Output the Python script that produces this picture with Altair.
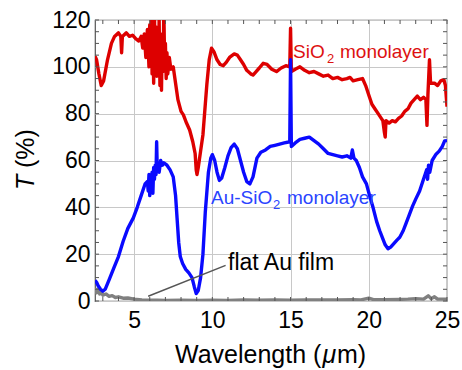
import altair as alt
import pandas as pd

# ---- measured spectra: wavelength (um) and transmittance (%) ----
sio2_wl = [2.5, 2.6, 2.75, 2.9, 3.05, 3.3, 3.55, 3.75, 4.0, 4.15, 4.2, 4.25, 4.5, 4.7, 4.9,
           5.1, 5.3, 5.45, 5.55, 5.65, 5.75, 5.85, 5.95, 6.0, 6.05, 6.1, 6.15, 6.2, 6.25, 6.3,
           6.35, 6.4, 6.45, 6.5, 6.55, 6.6, 6.65, 6.7, 6.75, 6.8, 6.85, 6.9, 6.95, 7.0, 7.05,
           7.1, 7.15, 7.25, 7.35, 7.5, 7.65, 7.8, 8.0, 8.15, 8.35, 8.55, 8.75, 8.9, 8.97, 9.02,
           9.1, 9.25, 9.4, 9.55, 9.65, 9.8, 9.95, 10.1, 10.3, 10.5, 10.7, 10.9, 11.1, 11.4,
           11.6, 11.8, 12.0, 12.2, 12.45, 12.6, 12.8, 13.0, 13.25, 13.5, 13.8, 14.1, 14.4, 14.7,
           14.95, 15.0, 15.05, 15.3, 15.6, 15.9, 16.2, 16.5, 16.8, 17.1, 17.4, 17.7, 18.0, 18.3,
           18.6, 18.8, 19.0, 19.3, 19.6, 19.8, 20.0, 20.2, 20.4, 20.6, 20.8, 20.9, 21.0, 21.05,
           21.1, 21.3, 21.5, 21.7, 21.9, 22.1, 22.3, 22.5, 22.7, 22.9, 23.1, 23.3, 23.5, 23.65,
           23.72, 23.78, 23.88, 23.95, 24.2, 24.4, 24.6, 24.8, 24.9, 25.0]
sio2_t = [104.5, 103, 97, 92, 94, 103, 110, 113, 114.5, 113, 106, 113, 114.5, 113, 113.5,
          112, 111, 113, 108, 114, 104, 116, 100, 118, 106, 121, 97, 112, 93, 122,
          103, 117, 96, 110, 99, 120, 92, 108, 90, 114, 98, 125, 101, 110, 95,
          106, 97, 104, 99, 100, 93, 86, 81, 79.5, 76, 73, 68, 63, 56, 54,
          57, 64, 71, 84, 92.5, 103, 108, 106.5, 103, 101, 100.5, 102, 104, 105.5,
          105, 103, 101, 98.5, 97, 96.5, 98, 99.5, 101.5, 101, 99, 98, 99.5, 100.5,
          100, 116.5, 98, 99, 100, 98.5, 97.5, 98, 97, 96, 96.5, 95, 95.5, 94.5,
          95, 95.5, 94, 94.5, 95, 92, 88, 84, 82, 80, 78, 77, 72, 70,
          77, 76, 77, 76.5, 78, 79, 81, 82, 84.5, 86, 87.5, 86, 87, 86,
          75, 88, 103, 93, 93, 92, 94, 94.5, 92, 83]

ausio2_wl = [2.5, 2.6, 2.7, 2.85, 3.0, 3.15, 3.4, 3.7, 4.0, 4.3, 4.6, 4.95, 5.2, 5.45, 5.7,
             5.85, 5.9, 5.95, 6.0, 6.05, 6.1, 6.15, 6.2, 6.25, 6.3, 6.35, 6.4, 6.44, 6.48,
             6.55, 6.6, 6.7, 6.8, 6.9, 7.1, 7.3, 7.5, 7.65, 7.75, 7.85, 7.95, 8.1, 8.3, 8.5,
             8.7, 8.85, 8.97, 9.1, 9.25, 9.4, 9.55, 9.75, 9.9, 10.0, 10.15, 10.3, 10.45,
             10.6, 10.8, 11.0, 11.2, 11.4, 11.6, 11.8, 12.0, 12.2, 12.4, 12.6, 12.85, 13.1,
             13.4, 13.7, 14.0, 14.3, 14.6, 14.95, 15.0, 15.05, 15.3, 15.6, 15.9, 16.2, 16.5,
             16.8, 17.1, 17.4, 17.7, 18.0, 18.3, 18.6, 18.85, 18.95, 19.05, 19.2, 19.4, 19.6,
             19.85, 20.05, 20.27, 20.5, 20.7, 20.9, 21.05, 21.23, 21.4, 21.6, 21.8, 21.98,
             22.2, 22.4, 22.6, 22.8, 23.0, 23.25, 23.45, 23.6, 23.7, 23.76, 23.82, 23.9,
             24.05, 24.3, 24.5, 24.7, 24.85, 25.0]
ausio2_t = [8.8, 8, 6.5, 5, 4.2, 5, 9, 14, 19, 25.5, 31, 35.5, 40, 45, 50,
            51, 47, 54, 45, 53, 49, 55, 46, 57, 52, 58, 54, 68, 56,
            59, 55, 60, 58, 59, 58, 56, 53, 45, 35, 25, 19, 16, 13.5, 12,
            10, 6, 3.2, 4.5, 10, 20, 38, 55, 61, 62.5, 60, 55, 51.5,
            52.5, 57, 62, 65.5, 67, 65, 60, 55, 51, 50, 53, 61, 63.5,
            64.5, 66, 66.5, 67, 67.5, 68, 103, 66, 67.5, 69, 69.5, 70, 68.5,
            67, 65, 63, 62.5, 62, 61.5, 62, 61, 64.5, 61, 60, 57, 53,
            50, 45, 40, 34, 30, 26.5, 24, 22.3, 23, 24.5, 26, 27.2,
            30, 33.5, 37, 40.5, 43.5, 47, 51, 54, 56, 52, 58, 55,
            60, 62.7, 64, 66, 68.4, 68.5]

au_wl = [2.5, 2.6, 2.7, 2.8, 2.9, 3.0, 3.2, 3.4, 3.6, 3.8, 4.0, 4.3, 4.6, 5.0, 5.5, 6.0,
         6.5, 7.0, 8.0, 9.0, 10.0, 11.0, 12.0, 13.0, 14.0, 15.0, 16.0, 17.0, 18.0, 19.0,
         19.5, 20.0, 20.3, 21.0, 22.0, 22.5, 23.0, 23.5, 23.8, 24.0, 24.2, 24.4, 25.0]
au_t = [5.5, 3.5, 5, 3, 4, 2.5, 3, 2, 2.3, 1.5, 1.8, 1.2, 1.3, 0.8, 0.5, 0.3,
        0.3, 0.2, 0.3, 0.2, 0.3, 0.2, 0.4, 0.3, 0.4, 0.3, 0.5, 0.4, 0.5, 0.6,
        0.5, 1.2, 0.6, 0.6, 0.7, 0.8, 1.0, 0.8, 2.2, 1.0, 1.8, 0.8, 0.8]

# axis tick positions
x_major = [5, 10, 15, 20, 25]
y_major = [0, 20, 40, 60, 80, 100, 120]
x_minor = list(range(3, 26))
y_minor = list(range(0, 121, 5))

# leader line for the flat film label
leader = pd.DataFrame({"x": [5.9], "y": [2.0], "x2": [10.85], "y2": [15.2]})

W, H = 352, 281
FONT = "Liberation Sans"

xs = alt.Scale(domain=[2.5, 25], nice=False, zero=False)
ys = alt.Scale(domain=[0, 120], nice=False, zero=False)

x_axis = alt.Axis(values=x_major, grid=True, gridColor="#c8c8c8", ticks=False, domain=False,
                  labelFont=FONT, labelFontSize=23, labelColor="black", labelPadding=8,
                  title=None, labelFlush=False)
y_axis = alt.Axis(values=y_major, grid=True, gridColor="#c8c8c8", ticks=False, domain=False,
                  labelFont=FONT, labelFontSize=23, labelColor="black", labelPadding=5,
                  title=None)


def spectrum(wl, t, color, width):
    df = pd.DataFrame({"wl": wl, "t": t})
    return alt.Chart(df).mark_line(color=color, strokeWidth=width, clip=True,
                                   strokeJoin="round").encode(
        x=alt.X("wl:Q", scale=xs, axis=x_axis),
        y=alt.Y("t:Q", scale=ys, axis=y_axis),
        order="wl:Q",
    )


red = spectrum(sio2_wl, sio2_t, "#dd0000", 3.4)
gray = spectrum(au_wl, au_t, "#808080", 3.4)
blue = spectrum(ausio2_wl, ausio2_t, "#0a0aff", 3.4)

line = alt.Chart(leader).mark_rule(color="#555555", strokeWidth=1.5).encode(
    x=alt.X("x:Q", scale=xs), y=alt.Y("y:Q", scale=ys), x2="x2:Q", y2="y2:Q")

# inward ticks on all four sides
tick_len = 4
tick_col = "#555555"
xt = pd.DataFrame({"v": x_minor})
yt = pd.DataFrame({"v": y_minor})
ticks = [
    alt.Chart(xt).mark_rule(color=tick_col, strokeWidth=1).encode(
        x=alt.X("v:Q", scale=xs), y=alt.value(H), y2=alt.value(H - tick_len)),
    alt.Chart(xt).mark_rule(color=tick_col, strokeWidth=1).encode(
        x=alt.X("v:Q", scale=xs), y=alt.value(0), y2=alt.value(tick_len)),
    alt.Chart(yt).mark_rule(color=tick_col, strokeWidth=1).encode(
        y=alt.Y("v:Q", scale=ys), x=alt.value(0), x2=alt.value(tick_len)),
    alt.Chart(yt).mark_rule(color=tick_col, strokeWidth=1).encode(
        y=alt.Y("v:Q", scale=ys), x=alt.value(W), x2=alt.value(W - tick_len)),
]


def label(s, x, y, size, color="black", style="normal", angle=0):
    kw = dict(align="left", baseline="alphabetic", font=FONT, fontSize=size,
              color=color, fontStyle=style)
    if angle:
        kw["angle"] = angle
    return alt.Chart(pd.DataFrame({"s": [s]})).mark_text(**kw).encode(
        x=alt.value(x), y=alt.value(y), text="s:N")


red_c = "#dd1111"
blue_c = "#2a44ff"
texts = [
    label("SiO", 198, 38, 19, red_c),
    label("2", 232, 43, 13, red_c),
    label("monolayer", 245, 38, 19, red_c),
    label("Au-SiO", 116, 184, 19, blue_c),
    label("2", 178, 189, 13, blue_c),
    label("monolayer", 192, 184, 19, blue_c),
    label("flat Au film", 133, 250, 23),
    # axis titles
    label("Wavelength (", 80, 343, 25),
    label("\u03bc", 227.5, 343, 25, style="italic"),
    label("m)", 242, 343, 25),
    label("T", -61, 170, 25, style="italic", angle=270),
    label("(%)", -61, 148, 25, angle=270),
]

chart = alt.layer(red, gray, blue, line, *ticks, *texts).properties(
    width=W, height=H,
    padding={"left": 95, "top": 20, "right": 15, "bottom": 69},
    autosize=alt.AutoSizeParams(type="none"),
    background="white",
).configure_view(stroke="#555555", strokeWidth=1.2)

chart.save("out.html", embed_options={"renderer": "svg", "actions": False})
